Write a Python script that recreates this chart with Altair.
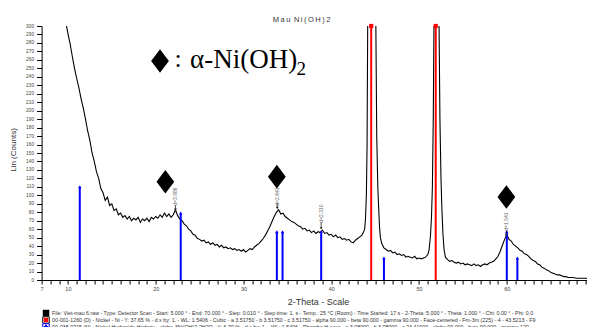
import altair as alt
import pandas as pd

tt_a = [9.50, 9.75, 10.00, 10.25, 10.50, 10.75, 11.00, 11.25,
        11.50, 11.75, 12.00, 12.25, 12.50, 12.75, 13.00, 13.25,
        13.50, 13.75, 14.00, 14.25, 14.50, 14.75, 15.00, 15.25,
        15.50, 15.75, 16.00, 16.25, 16.50, 16.75, 17.00, 17.25,
        17.50, 17.75, 18.00, 18.25, 18.50, 18.75, 19.00, 19.25,
        19.50, 19.75, 20.00, 20.25, 20.50, 20.75, 21.00, 21.25,
        21.50, 21.75, 22.00, 22.25, 22.50, 22.75, 23.00, 23.25,
        23.50, 23.75, 24.00, 24.25, 24.50, 24.75, 25.00, 25.25,
        25.50, 25.75, 26.00, 26.25, 26.50, 26.75, 27.00, 27.25,
        27.50, 27.75, 28.00, 28.25, 28.50, 28.75, 29.00, 29.25,
        29.50, 29.75, 30.00, 30.25, 30.50, 30.75, 31.00, 31.25,
        31.50, 31.75, 32.00, 32.25, 32.50, 32.75, 33.00, 33.25,
        33.50, 33.75, 34.00, 34.25, 34.50, 34.75, 35.00, 35.25,
        35.50, 35.75, 36.00, 36.25, 36.50, 36.75, 37.00, 37.25,
        37.50, 37.75, 38.00, 38.25, 38.50, 38.75, 39.00, 39.25,
        39.50, 39.75, 40.00, 40.25, 40.50, 40.75, 41.00, 41.25,
        41.50, 41.75, 42.00, 42.25, 42.50, 42.75, 43.00, 43.25, 43.50]
cps_a = [335, 305, 291, 279, 264, 250, 238, 227,
         214, 203, 190, 176, 165, 150, 140, 128,
         120, 108, 103, 94, 98, 88, 90, 82,
         84, 77, 79, 74, 76, 72, 75, 70,
         73, 71, 74, 68, 72, 70, 73, 69,
         74, 72, 75, 73, 77, 74, 79, 75,
         78, 74, 77, 83, 76, 72, 70, 66,
         64, 60, 58, 54, 53, 49, 48, 46,
         47, 44, 45, 42, 44, 41, 42, 39,
         41, 38, 39, 37, 38, 36, 37, 35,
         36, 34, 36, 33, 35, 37, 36, 39,
         41, 43, 46, 49, 53, 58, 63, 69,
         75, 80, 83, 78, 79, 75, 73, 71,
         69, 68, 66, 64, 63, 60, 61, 58,
         59, 56, 58, 55, 57, 56, 59, 55,
         56, 53, 54, 51, 53, 50, 51, 48,
         49, 47, 48, 45, 44, 47, 49, 51, 53]

tt_p1 = [43.65, 43.8, 43.9, 44.0, 44.08, 44.15, 44.25, 44.4, 44.55, 44.65,
         44.8, 44.95, 45.08, 45.18, 45.3, 45.4, 45.5, 45.6, 45.75, 46.0]
cps_p1 = [56, 60, 72, 100, 160, 300, 520, 800, 950, 960,
          820, 560, 300, 170, 110, 85, 62, 50, 43, 38]

tt_m = [46.25, 46.5, 46.75, 47.0, 47.25, 47.5, 47.75, 48.0, 48.25, 48.5,
        48.75, 49.0, 49.25, 49.5, 49.75, 50.0, 50.25, 50.5, 50.75, 51.0]
cps_m = [36, 34, 35, 32, 33, 30, 31, 29, 30, 27,
         28, 27, 26, 28, 25, 26, 25, 26, 27, 30]

tt_p2 = [51.15, 51.3, 51.42, 51.52, 51.62, 51.7, 51.8, 51.92, 52.02, 52.15,
         52.28, 52.38, 52.5, 52.6, 52.72, 52.85, 53.0]
cps_p2 = [36, 52, 75, 110, 190, 300, 520, 680, 650, 480,
          300, 190, 120, 85, 55, 36, 27]

tt_t = [53.25, 53.5, 53.75, 54.0, 54.25, 54.5, 54.75, 55.0,
        55.25, 55.5, 55.75, 56.0, 56.25, 56.5, 56.75, 57.0,
        57.25, 57.5, 57.75, 58.0, 58.25, 58.5, 58.75, 59.0,
        59.25, 59.5, 59.75, 60.0, 60.25, 60.5, 60.75, 61.0,
        61.25, 61.5, 61.75, 62.0, 62.25, 62.5, 62.75, 63.0,
        63.25, 63.5, 63.75, 64.0, 64.25, 64.5, 64.75, 65.0,
        65.25, 65.5, 65.75, 66.0, 66.25, 66.5, 66.75, 67.0,
        67.5, 68.0, 68.5, 69.0, 69.5, 70.0]
cps_t = [24, 22, 23, 21, 20, 21, 19, 20,
         18, 19, 18, 17, 19, 17, 18, 16,
         18, 19, 18, 20, 21, 22, 25, 28,
         34, 41, 48, 54, 48, 46, 42, 40,
         38, 35, 34, 31, 30, 28, 25, 23,
         22, 19, 18, 15, 14, 12, 11, 9,
         8, 7, 6, 6, 5, 4, 4, 3,
         3, 2, 2, 2, 1, 1]

# ---- reference patterns ----
ni_theta = [44.55, 51.9]          # 00-001-1260 Nickel
ni_height = [300, 300]
nhh_theta = [11.35, 22.85, 33.8, 34.45, 38.85, 46.0, 60.0, 61.2]   # 00-038-0715
nhh_height = [110, 79, 57, 57, 57, 26, 57, 26]

# ---- alpha-Ni(OH)2 markers ----
diam_theta = [21.1, 33.8, 59.95]
diam_counts = [116, 122, 98]

# ---- d-spacing labels ----
d_theta = [22.25, 33.85, 38.85, 59.95]
d_text = ["d=3.986", "d=2.641", "d=2.310", "d=1.541"]
d_label_counts = [98.5, 98.5, 78.5, 69]
d_arrow_top = [88.5, 91, 68.5, 59]
d_arrow_bottom = [83, 85, 61, 53]

x_ticks = list(range(7, 71))
x_labels = [7, 10, 20, 30, 40, 50, 60, 70]
y_ticks = list(range(0, 301, 10))

title_text = "M\u2009a\u2009u\u2009 N\u2009i\u2009(\u2009O\u2009H\u2009)\u20092"
legend_lines = [
    "File: Viet-mau 6.raw - Type: Detector Scan - Start: 5.000 ° - End: 70.000 ° - Step: 0.010 ° - Step time: 1. s - Temp.: 25 °C (Room) - Time Started: 17 s - 2-Theta: 5.000 ° - Theta: 1.000 ° - Chi: 0.00 ° - Phi: 0.0",
    "00-001-1260 (D) - Nickel - Ni - Y: 37.65 % - d x by: 1. - WL: 1.5406 - Cubic - a 3.51750 - b 3.51750 - c 3.51750 - alpha 90.000 - beta 90.000 - gamma 90.000 - Face-centered - Fm-3m (225) - 4 - 43.5213 - F9",
    "00-038-0715 (N) - Nickel Hydroxide Hydrate - alpha-3Ni(OH)2·2H2O - Y: 6.70 % - d x by: 1. - WL: 1.5406 - Rhombo.H.axes - a 3.08000 - b 3.08000 - c 23.41000 - alpha 90.000 - beta 90.000 - gamma 120",
]

W, H = 553, 254
XS = alt.Scale(domain=[7, 70], nice=False, zero=False)
YS = alt.Scale(domain=[0, 300], nice=False, zero=True)

scan = pd.DataFrame({"tt": tt_a + tt_p1 + tt_m + tt_p2 + tt_t,
                     "cps": cps_a + cps_p1 + cps_m + cps_p2 + cps_t})

x_axis = alt.Axis(values=x_ticks, labelExpr="indexof(%s, datum.value) >= 0 ? datum.label : ''" % str(x_labels),
                  labelOverlap=False, labelFlush=False, grid=False, tickSize=4, tickColor="black",
                  domainColor="black", labelFont="Liberation Sans", labelFontSize=5.5, labelColor="#444",
                  labelPadding=2, title=None)
y_axis = alt.Axis(values=y_ticks, format="d", labelOverlap=False, grid=False, tickSize=5, tickColor="black",
                  domainColor="black", labelFont="Liberation Sans", labelFontSize=4.8, labelColor="#444",
                  labelPadding=3, title=None)


def X(field):
    return alt.X(field, scale=XS, axis=x_axis)


def Y(field):
    return alt.Y(field, scale=YS, axis=y_axis)


curve = alt.Chart(scan).mark_line(color="black", strokeWidth=1.1, clip=True).encode(
    x=X("tt:Q"), y=Y("cps:Q"))

ni = pd.DataFrame({"tt": ni_theta, "h": ni_height, "base": [0] * len(ni_theta)})
nhh = pd.DataFrame({"tt": nhh_theta, "h": nhh_height, "base": [0] * len(nhh_theta)})

ni_rule = alt.Chart(ni).mark_rule(color="#ff0000", strokeWidth=2).encode(
    x=X("tt:Q"), y=Y("h:Q"), y2="base:Q")
ni_top = alt.Chart(ni).mark_point(shape="square", filled=True, color="#ff0000", size=18, opacity=1).encode(
    x=X("tt:Q"), y=Y("h:Q"))
nhh_rule = alt.Chart(nhh).mark_rule(color="#0000ff", strokeWidth=2).encode(
    x=X("tt:Q"), y=Y("h:Q"), y2="base:Q")
nhh_top = alt.Chart(nhh).mark_point(shape="triangle-up", filled=True, color="#0000ff", size=12, opacity=1).encode(
    x=X("tt:Q"), y=Y("h:Q"))

diamond_path = "M-0.75,0L0,-1L0.75,0L0,1Z"
diam = pd.DataFrame({"tt": diam_theta, "cps": diam_counts})
diamonds = alt.Chart(diam).mark_point(shape=diamond_path, filled=True, color="black", size=560, opacity=1).encode(
    x=X("tt:Q"), y=Y("cps:Q"))

dl = pd.DataFrame({"tt": d_theta, "t": d_text, "lc": d_label_counts,
                   "a1": d_arrow_top, "a2": d_arrow_bottom})
d_labels = alt.Chart(dl).mark_text(angle=270, fontSize=5, color="#666", font="Liberation Sans").encode(
    x=X("tt:Q"), y=Y("lc:Q"), text="t:N")
d_arrows = alt.Chart(dl).mark_rule(color="#222", strokeWidth=0.8).encode(
    x=X("tt:Q"), y=Y("a1:Q"), y2="a2:Q")
d_heads = alt.Chart(dl).mark_point(shape="triangle-down", filled=True, color="#222", size=8, opacity=1).encode(
    x=X("tt:Q"), y=Y("a2:Q"))


def label(text, x, y, **kw):
    return alt.Chart(alt.Data(values=[{"t": text}])).mark_text(**kw).encode(
        text="t:N", x=alt.value(x), y=alt.value(y))


def icon(x, y, **kw):
    return alt.Chart(alt.Data(values=[{"t": 1}])).mark_point(opacity=1, **kw).encode(
        x=alt.value(x), y=alt.value(y))


texts = [
    label(title_text, 260, -6, fontSize=7.5, font="Liberation Sans", color="#333"),
    label("Lin (Counts)", -27.5, 124, angle=270, fontSize=8, font="Liberation Sans", color="#333"),
    label("2-Theta - Scale", 277, 276, fontSize=9, font="Liberation Sans", color="#333"),
    label(":", 136.5, 41, fontSize=26, font="Liberation Serif", color="black", baseline="alphabetic"),
    label("α-Ni(OH)", 148.4, 42, fontSize=27, font="Liberation Serif", color="black", align="left",
          baseline="alphabetic"),
    label("2", 255, 48.5, fontSize=19, font="Liberation Serif", color="black", align="left",
          baseline="alphabetic"),
]
for i, line in enumerate(legend_lines):
    texts.append(label(line, 10.4, 287 + 7 * i, fontSize=5.3, font="Liberation Sans", color="#333",
                       align="left", baseline="middle"))

icons = [
    icon(118.4, 35, shape=diamond_path, filled=True, color="black", size=560),
    icon(4.4, 287, shape="square", filled=True, color="black", size=42),
    icon(4.4, 294, shape="square", filled=True, color="white", stroke="black", strokeWidth=1, size=42),
    icon(4.4, 294, shape="square", filled=True, color="#ff0000", size=20),
    icon(4.4, 301, shape="square", filled=True, color="white", stroke="#0000ff", strokeWidth=1, size=42),
    icon(4.4, 301, shape="cross", filled=True, color="#0000ff", size=20),
]

chart = alt.layer(curve, ni_rule, ni_top, nhh_rule, nhh_top, d_arrows, d_heads, d_labels, diamonds,
                  *texts, *icons).properties(
    width=W, height=H,
    autosize=alt.AutoSizeParams(type="none"),
    padding={"left": 33.6, "top": 18, "right": -7.6, "bottom": 50},
    background="white",
).configure_view(stroke=None)

chart.save("out.html", embed_options={"renderer": "svg", "actions": False})
